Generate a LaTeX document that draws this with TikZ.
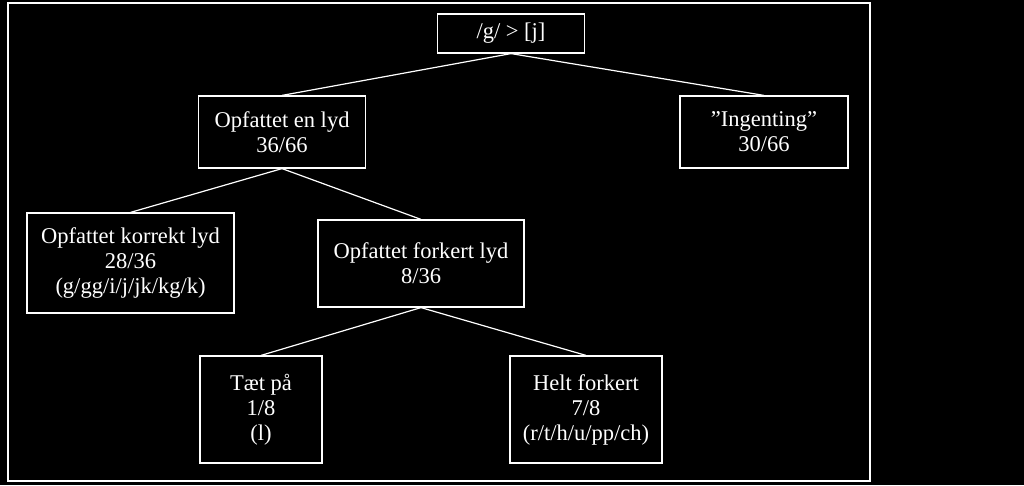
\documentclass[tikz,border=0pt]{standalone}
\usepackage{fontspec}
\setmainfont{Liberation Serif}
\begin{document}
\begin{tikzpicture}[x=1pt,y=-1pt,
  every path/.style={white,line width=1.2pt},
  boks/.style={draw=white,text=white,align=center,inner sep=0pt,
    font=\fontsize{22.5}{25}\selectfont}]
\fill[black] (0,0) rectangle (1024,485);
\useasboundingbox (0,0) rectangle (1024,485);
\draw (8,3) rectangle (870,481);

\node[boks,minimum width=147,minimum height=39] (rod) at (511,33.5) {/g/ > [j]};
\node[boks,minimum width=167,minimum height=72] (lyd) at (282,132) {Opfattet en lyd\\36/66};
\node[boks,minimum width=168,minimum height=72] (ingen) at (764,132) {”Ingenting”\\30/66};
\node[boks,minimum width=207,minimum height=100] (korrekt) at (130.5,263) {Opfattet korrekt lyd\\28/36\\(g/gg/i/j/jk/kg/k)};
\node[boks,minimum width=206,minimum height=87] (forkert) at (421,263.5) {Opfattet forkert lyd\\8/36};
\node[boks,minimum width=122,minimum height=107] (taet) at (261,409.5) {Tæt på\\1/8\\(l)};
\node[boks,minimum width=152,minimum height=107] (helt) at (586,409.5) {Helt forkert\\7/8\\(r/t/h/u/pp/ch)};

\draw (rod.south) -- (lyd.north);
\draw (rod.south) -- (ingen.north);
\draw (lyd.south) -- (korrekt.north);
\draw (lyd.south) -- (forkert.north);
\draw (forkert.south) -- (taet.north);
\draw (forkert.south) -- (helt.north);
\end{tikzpicture}
\end{document}
